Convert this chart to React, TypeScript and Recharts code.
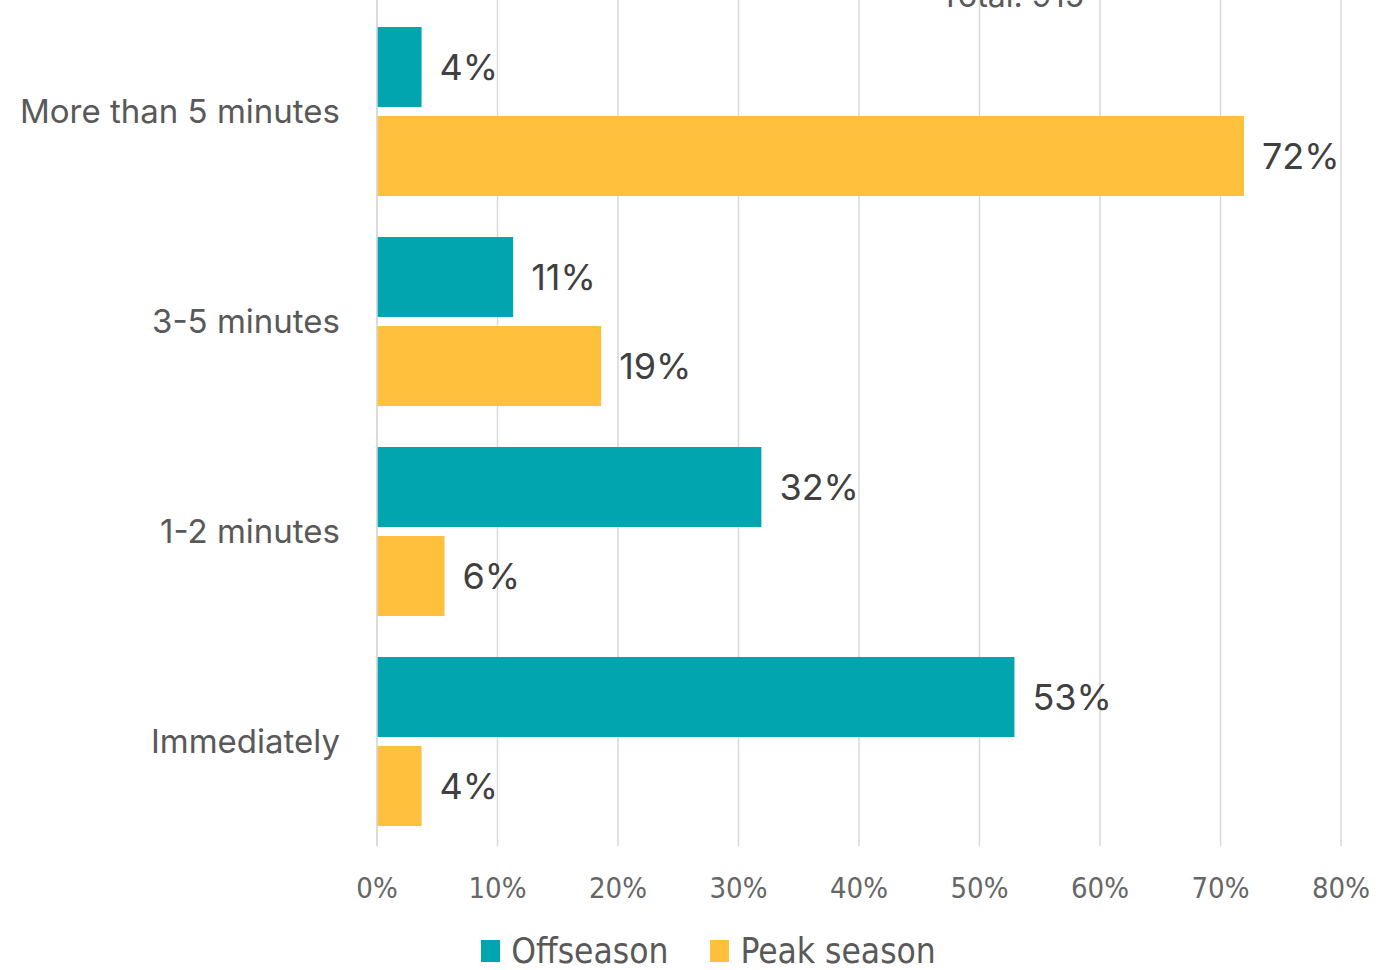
import React from 'react';
import { BarChart, Bar, XAxis, YAxis, CartesianGrid, LabelList, Legend, Customized } from 'recharts';

const categories = ['More than 5 minutes', '3-5 minutes', '1-2 minutes', 'Immediately'];
const offseason = [3.7, 11.3, 31.9, 52.9];
const peakSeason = [71.95, 18.6, 5.6, 3.7];
const xTicks = [0, 10, 20, 30, 40, 50, 60, 70, 80];
const seriesNames = ['Offseason', 'Peak season'];
const totalLabel = 'Total: 915';

const TEAL = '#00A5B0';
const GOLD = '#FFC03E';

const data = categories.map((name, i) => ({ name, off: offseason[i], peak: peakSeason[i] }));

const FONT = "Inter, 'Noto Sans', sans-serif";
const NARROW = "'Liberation Sans Narrow', 'DejaVu Sans Condensed', sans-serif";

const fmt = (v: any) => `${Math.round(Number(v))}%`;

const LegendContent = () => (
  <div style={{ height: 50, display: 'flex', justifyContent: 'center', alignItems: 'center', paddingTop: 12, paddingLeft: 76, boxSizing: 'border-box', fontFamily: NARROW, fontStretch: 'condensed', fontSize: 35, lineHeight: 1, color: '#595959' }}>
    {[TEAL, GOLD].map((c, i) => (
      <div key={i} style={{ display: 'flex', alignItems: 'center', marginRight: i === 0 ? 42 : 0 }}>
        <div style={{ width: 19, height: 22, background: c, marginRight: 11 }} />
        <span style={{ lineHeight: 1 }}>{seriesNames[i]}</span>
      </div>
    ))}
  </div>
);

const Title = () => (
  <text x={1012} y={7} textAnchor="middle" fontFamily={FONT} fontSize={32} fill="#595959">{totalLabel}</text>
);

export default function App() {
  return (
    <div style={{ position: 'absolute', left: 0, top: 0, width: 1399, height: 970, background: '#fff' }}>
      <BarChart
        layout="vertical"
        width={1399}
        height={970}
        data={data}
        margin={{ top: 0, right: 58, left: 0, bottom: 0 }}
        barSize={80}
        barGap={9}
      >
        <CartesianGrid horizontal={false} stroke="#d9d9d9" strokeWidth={1.5} />
        <XAxis
          type="number"
          domain={[0, 80]}
          ticks={xTicks}
          tickFormatter={(v) => `${v}%`}
          axisLine={false}
          tickLine={false}
          tickSize={0}
          tickMargin={31}
          height={74}
          tick={{ fontFamily: NARROW, fontStretch: 'condensed', fontSize: 29, fill: '#666666' }}
        />
        <YAxis
          type="category"
          dataKey="name"
          width={377}
          padding={{ top: 6, bottom: 0 }}
          axisLine={{ stroke: '#d9d9d9', strokeWidth: 1.5 }}
          tickLine={false}
          tickSize={0}
          tickMargin={37}
          tick={{ fontFamily: FONT, fontSize: 33, fill: '#595959' }}
        />
        <Legend verticalAlign="bottom" content={<LegendContent />} />
        <Bar dataKey="off" name={seriesNames[0]} fill={TEAL} isAnimationActive={false}>
          <LabelList dataKey="off" position="right" offset={18} formatter={fmt} style={{ fontFamily: FONT, fontSize: 36, fill: '#404040' }} />
        </Bar>
        <Bar dataKey="peak" name={seriesNames[1]} fill={GOLD} isAnimationActive={false}>
          <LabelList dataKey="peak" position="right" offset={18} formatter={fmt} style={{ fontFamily: FONT, fontSize: 36, fill: '#404040' }} />
        </Bar>
        <Customized component={Title} />
      </BarChart>
    </div>
  );
}
